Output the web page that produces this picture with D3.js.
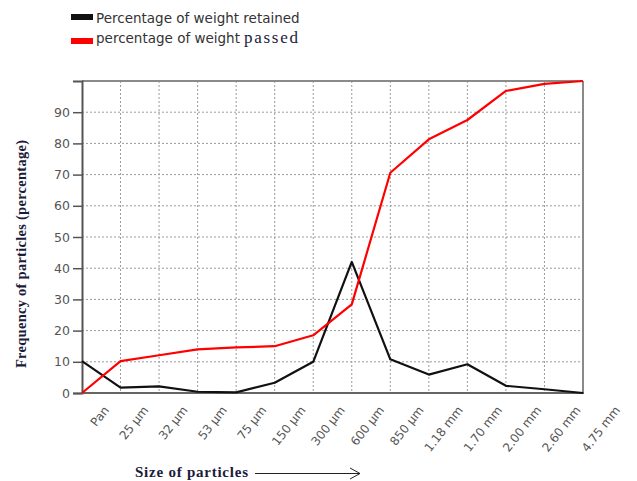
<!DOCTYPE html>
<html><head><meta charset="utf-8">
<script src="https://cdn.jsdelivr.net/npm/d3@7"></script>
<style>body{margin:0;background:#fff}</style>
</head><body>
<svg id="c" width="637" height="481"></svg>
<script>
const categories = ["Pan","25 µm","32 µm","53 µm","75 µm","150 µm","300 µm","600 µm","850 µm","1.18 mm","1.70 mm","2.00 mm","2.60 mm","4.75 mm"];
const retained = [10.2, 1.7, 2.1, 0.4, 0.2, 3.3, 10.0, 42.0, 10.8, 5.9, 9.2, 2.3, 1.2, 0];
const passed = [0, 10.2, 12.1, 14.0, 14.6, 15.0, 18.5, 28.4, 70.6, 81.3, 87.5, 96.8, 99.1, 100];
const yTicks = [0,10,20,30,40,50,60,70,80,90];

const svg = d3.select("#c");
const L = 82, R = 583, T = 81, B = 393;
const x = d3.scalePoint().domain(categories).range([L, R]);
const xl = d3.scalePoint().domain(categories).range([103, 614]);
const y = d3.scaleLinear().domain([0, 100]).range([B, T]);

// grid
const g = svg.append("g");
g.selectAll("line.h").data(yTicks.slice(1)).join("line")
  .attr("x1", L).attr("x2", R).attr("y1", d => y(d)).attr("y2", d => y(d))
  .attr("stroke", "#9a9a9a").attr("stroke-width", 1).attr("stroke-dasharray", "2,2");
g.selectAll("line.v").data(categories.slice(1, -1)).join("line")
  .attr("x1", d => x(d)).attr("x2", d => x(d)).attr("y1", T).attr("y2", B)
  .attr("stroke", "#9a9a9a").attr("stroke-width", 1).attr("stroke-dasharray", "2,2");

// border
svg.append("line").attr("x1", L).attr("x2", R).attr("y1", T).attr("y2", T).attr("stroke", "#8a8a8a").attr("stroke-width", 2);
svg.append("line").attr("x1", R).attr("x2", R).attr("y1", T).attr("y2", B).attr("stroke", "#8a8a8a").attr("stroke-width", 2);

// y axis
const ya = svg.append("g").attr("transform", `translate(${L},0)`)
  .call(d3.axisLeft(y).tickValues(yTicks).tickSize(9).tickPadding(3));
ya.select(".domain").attr("stroke", "#555").attr("stroke-width", 2);
ya.selectAll(".tick line").attr("stroke", "#555").attr("stroke-width", 1.5);
ya.selectAll(".tick text").attr("fill", "#555").style("font-family", "DejaVu Sans, Verdana, sans-serif").style("font-size", "12.5px");

// x axis line
svg.append("line").attr("x1", L - 1).attr("x2", R + 1).attr("y1", B).attr("y2", B).attr("stroke", "#666").attr("stroke-width", 2);

// x labels
svg.append("g").selectAll("text").data(categories).join("text")
  .attr("transform", d => `translate(${xl(d)},${405}) rotate(-52)`)
  .attr("text-anchor", "end").attr("dy", "0.7em")
  .attr("fill", "#555").style("font-family", "DejaVu Sans, Verdana, sans-serif").style("font-size", "12px")
  .text(d => d);

// lines
const line = d3.line().x((d, i) => x(categories[i])).y(d => y(d));
svg.append("path").datum(retained).attr("d", line).attr("fill", "none").attr("stroke", "#111").attr("stroke-width", 2.2).attr("stroke-linejoin", "round");
svg.append("path").datum(passed).attr("d", line).attr("fill", "none").attr("stroke", "#ff0000").attr("stroke-width", 2.2).attr("stroke-linejoin", "round");

// legend
svg.append("rect").attr("x", 71).attr("y", 14).attr("width", 22).attr("height", 6).attr("fill", "#111");
svg.append("text").attr("x", 96).attr("y", 23).attr("fill", "#333")
  .style("font-family", "DejaVu Sans, Verdana, sans-serif").style("font-size", "13.5px").text("Percentage of weight retained");
svg.append("rect").attr("x", 71).attr("y", 38).attr("width", 22).attr("height", 6).attr("fill", "#ff0000");
svg.append("text").attr("x", 96).attr("y", 43).attr("fill", "#333")
  .style("font-family", "DejaVu Sans, Verdana, sans-serif").style("font-size", "13.5px")
  .text("percentage of weight");
svg.append("text").attr("x", 244).attr("y", 43).attr("fill", "#1b1b3a")
  .style("font-family", "'Liberation Serif', 'Times New Roman', serif").style("font-size", "17px")
  .attr("textLength", 54).attr("lengthAdjust", "spacing")
  .text("passed");

// axis titles
svg.append("text").attr("transform", "translate(26,254) rotate(-90)").attr("text-anchor", "middle")
  .attr("fill", "#1b1b3a").style("font-family", "Liberation Serif, Times New Roman, serif").style("font-weight", "bold").style("font-size", "14.5px")
  .attr("textLength", 228).attr("lengthAdjust", "spacing")
  .text("Frequency of particles (percentage)");
svg.append("text").attr("x", 135).attr("y", 477).attr("fill", "#1b1b3a")
  .style("font-family", "Liberation Serif, Times New Roman, serif").style("font-weight", "bold").style("font-size", "15px")
  .attr("textLength", 113).attr("lengthAdjust", "spacing")
  .text("Size of particles");
svg.append("line").attr("x1", 255).attr("x2", 360).attr("y1", 473.5).attr("y2", 473.5).attr("stroke", "#222").attr("stroke-width", 1);
svg.append("path").attr("d", "M350,468 L360,473.5 L350,479").attr("fill", "none").attr("stroke", "#222").attr("stroke-width", 1);
</script>
</body></html>
